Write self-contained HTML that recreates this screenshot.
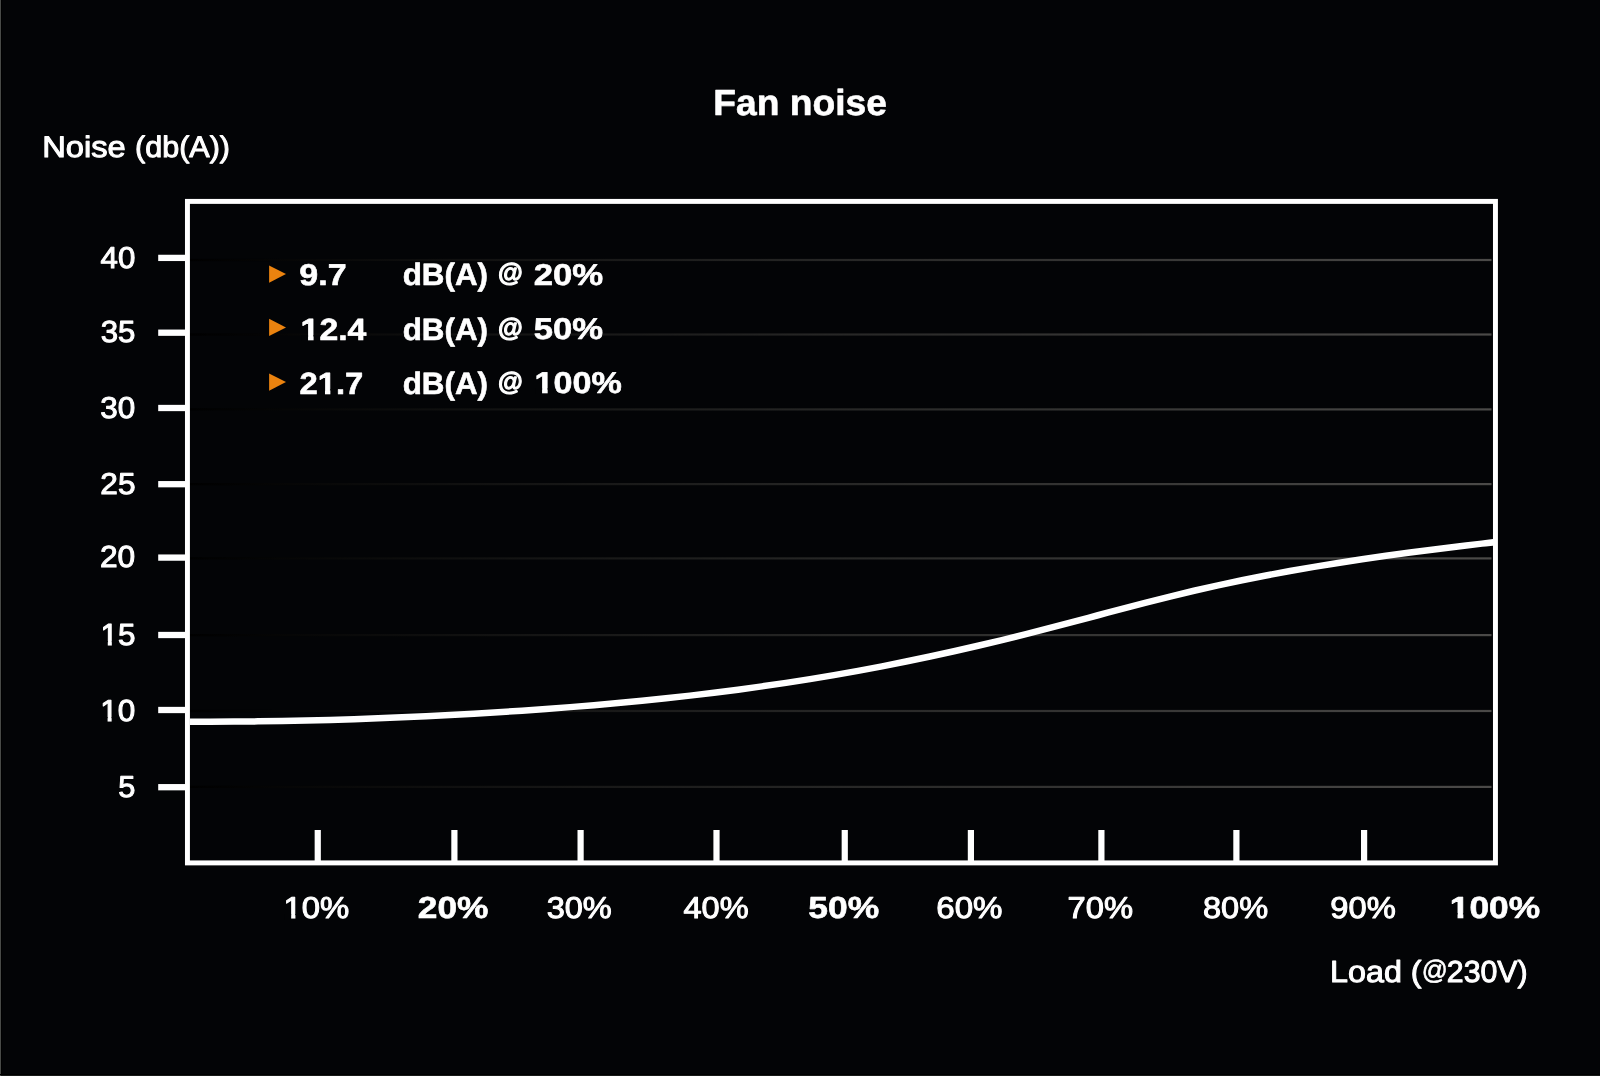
<!DOCTYPE html>
<html lang="en"><head><meta charset="utf-8"><title>Fan noise</title>
<style>
html,body{margin:0;padding:0;background:#030406;}
body{width:1600px;height:1076px;overflow:hidden;position:relative;}
svg{position:absolute;left:0;top:0;display:block;will-change:transform;}
text{font-family:"Liberation Sans",sans-serif;fill:#fff;stroke:#fff;stroke-linejoin:round;text-rendering:geometricPrecision;}
.b{font-weight:bold;}
</style></head><body>
<svg width="1600" height="1076" viewBox="0 0 1600 1076">
<defs><linearGradient id="gl" gradientUnits="userSpaceOnUse" x1="190" y1="0" x2="1491.5" y2="0"><stop offset="0" stop-color="#000000"/><stop offset="0.5" stop-color="#272726"/><stop offset="1" stop-color="#4b4a48"/></linearGradient></defs>
<rect x="0" y="0" width="1" height="1076" fill="#484a47"/><rect x="1" y="0" width="1" height="1076" fill="#000"/>
<rect x="0" y="1074" width="1600" height="1" fill="#000"/><rect x="1" y="1075" width="1599" height="1" fill="#171918"/>
<rect x="190" y="258.90" width="1301.5" height="2.2" fill="url(#gl)"/>
<rect x="190" y="333.40" width="1301.5" height="2.2" fill="url(#gl)"/>
<rect x="190" y="408.30" width="1301.5" height="2.2" fill="url(#gl)"/>
<rect x="190" y="483.00" width="1301.5" height="2.2" fill="url(#gl)"/>
<rect x="190" y="557.30" width="1301.5" height="2.2" fill="url(#gl)"/>
<rect x="190" y="634.00" width="1301.5" height="2.2" fill="url(#gl)"/>
<rect x="190" y="709.90" width="1301.5" height="2.2" fill="url(#gl)"/>
<rect x="190" y="785.80" width="1301.5" height="2.2" fill="url(#gl)"/>
<rect x="187.45" y="201.4" width="1308" height="661.5" fill="none" stroke="#fff" stroke-width="4.95"/>
<rect x="158.2" y="254.75" width="28" height="6.3" fill="#fff"/>
<rect x="158.2" y="329.55" width="28" height="6.3" fill="#fff"/>
<rect x="158.2" y="404.85" width="28" height="6.3" fill="#fff"/>
<rect x="158.2" y="481.05" width="28" height="6.3" fill="#fff"/>
<rect x="158.2" y="554.45" width="28" height="6.3" fill="#fff"/>
<rect x="158.2" y="631.85" width="28" height="6.3" fill="#fff"/>
<rect x="158.2" y="706.85" width="28" height="6.3" fill="#fff"/>
<rect x="158.2" y="784.05" width="28" height="6.3" fill="#fff"/>
<rect x="314.65" y="830" width="6.2" height="31" fill="#fff"/>
<rect x="451.30" y="830" width="6.2" height="31" fill="#fff"/>
<rect x="577.50" y="830" width="6.2" height="31" fill="#fff"/>
<rect x="713.40" y="830" width="6.2" height="31" fill="#fff"/>
<rect x="841.65" y="830" width="6.2" height="31" fill="#fff"/>
<rect x="967.80" y="830" width="6.2" height="31" fill="#fff"/>
<rect x="1098.30" y="830" width="6.2" height="31" fill="#fff"/>
<rect x="1233.30" y="830" width="6.2" height="31" fill="#fff"/>
<rect x="1361.00" y="830" width="6.2" height="31" fill="#fff"/>
<clipPath id="cp"><rect x="190" y="204" width="1303" height="656.5"/></clipPath>
<path clip-path="url(#cp)" d="M186.00 721.66 C190.00 721.67 202.00 721.71 210.00 721.70 C218.00 721.69 226.00 721.65 234.00 721.60 C242.00 721.54 250.00 721.47 258.00 721.37 C266.00 721.27 274.00 721.15 282.00 721.01 C290.00 720.86 298.00 720.70 306.00 720.52 C314.00 720.33 322.00 720.13 330.00 719.90 C338.00 719.67 346.00 719.43 354.00 719.16 C362.00 718.89 370.00 718.60 378.00 718.30 C386.00 717.99 394.00 717.66 402.00 717.31 C410.00 716.96 418.00 716.60 426.00 716.21 C434.00 715.82 442.00 715.41 450.00 714.99 C458.00 714.56 466.00 714.12 474.00 713.65 C482.00 713.19 490.00 712.71 498.00 712.21 C506.00 711.71 514.00 711.19 522.00 710.64 C530.00 710.10 538.00 709.54 546.00 708.96 C554.00 708.37 562.00 707.76 570.00 707.13 C578.00 706.50 586.00 705.84 594.00 705.16 C602.00 704.48 610.00 703.77 618.00 703.03 C626.00 702.30 634.00 701.53 642.00 700.74 C650.00 699.94 658.00 699.12 666.00 698.27 C674.00 697.41 682.00 696.53 690.00 695.61 C698.00 694.69 706.00 693.74 714.00 692.75 C722.00 691.76 730.00 690.74 738.00 689.68 C746.00 688.62 754.00 687.53 762.00 686.39 C770.00 685.26 778.00 684.09 786.00 682.88 C794.00 681.67 802.00 680.42 810.00 679.12 C818.00 677.83 826.00 676.49 834.00 675.11 C842.00 673.74 850.00 672.31 858.00 670.85 C866.00 669.38 874.00 667.87 882.00 666.32 C890.00 664.77 898.00 663.18 906.00 661.55 C914.00 659.91 922.00 658.24 930.00 656.52 C938.00 654.81 946.00 653.06 954.00 651.26 C962.00 649.47 970.00 647.64 978.00 645.77 C986.00 643.90 994.00 642.00 1002.00 640.05 C1010.00 638.11 1018.00 636.13 1026.00 634.12 C1034.00 632.10 1042.00 630.05 1050.00 627.97 C1058.00 625.89 1066.00 623.77 1074.00 621.66 C1082.00 619.54 1090.00 617.39 1098.00 615.26 C1106.00 613.14 1114.00 611.00 1122.00 608.89 C1130.00 606.78 1138.00 604.68 1146.00 602.62 C1154.00 600.56 1162.00 598.53 1170.00 596.55 C1178.00 594.58 1186.00 592.64 1194.00 590.77 C1202.00 588.91 1210.00 587.10 1218.00 585.35 C1226.00 583.60 1234.00 581.91 1242.00 580.27 C1250.00 578.63 1258.00 577.05 1266.00 575.51 C1274.00 573.98 1282.00 572.49 1290.00 571.05 C1298.00 569.62 1306.00 568.23 1314.00 566.88 C1322.00 565.53 1330.00 564.22 1338.00 562.95 C1346.00 561.69 1354.00 560.46 1362.00 559.27 C1370.00 558.08 1378.00 556.92 1386.00 555.80 C1394.00 554.67 1402.00 553.58 1410.00 552.52 C1418.00 551.45 1426.00 550.42 1434.00 549.41 C1442.00 548.40 1450.00 547.41 1458.00 546.45 C1466.00 545.48 1475.00 544.43 1482.00 543.62 C1489.00 542.80 1497.00 541.91 1500.00 541.56" fill="none" stroke="#fff" stroke-width="6.5"/>
<path d="M269.1 265.40 L286.0 274.10 L269.1 282.80 Z" fill="#eb830f"/>
<path d="M269.1 318.70 L286.0 327.40 L269.1 336.10 Z" fill="#eb830f"/>
<path d="M269.1 373.40 L286.0 382.10 L269.1 390.80 Z" fill="#eb830f"/>
<text class="b" x="713.37" y="115.00" font-size="36.28" stroke-width="0.60" textLength="173.64" lengthAdjust="spacingAndGlyphs">Fan noise</text>
<text x="42.18" y="157.00" font-size="29.66" stroke-width="1.00" textLength="83.59" lengthAdjust="spacingAndGlyphs">Noise</text>
<text x="135.04" y="157.00" font-size="29.66" stroke-width="1.00" textLength="94.97" lengthAdjust="spacingAndGlyphs">(db(A))</text>
<text x="100.63" y="268.00" font-size="30.13" stroke-width="1.00" textLength="34.73" lengthAdjust="spacingAndGlyphs">40</text>
<text x="100.67" y="342.00" font-size="30.41" stroke-width="1.00" textLength="34.70" lengthAdjust="spacingAndGlyphs">35</text>
<text x="100.25" y="418.00" font-size="30.13" stroke-width="1.00" textLength="34.96" lengthAdjust="spacingAndGlyphs">30</text>
<text x="100.29" y="494.00" font-size="30.13" stroke-width="1.00" textLength="35.20" lengthAdjust="spacingAndGlyphs">25</text>
<text x="99.95" y="567.00" font-size="30.41" stroke-width="1.00" textLength="35.28" lengthAdjust="spacingAndGlyphs">20</text>
<text x="100.52" y="645.00" font-size="30.48" stroke-width="1.00" textLength="34.92" lengthAdjust="spacingAndGlyphs">15</text>
<text x="100.31" y="721.00" font-size="30.34" stroke-width="1.00" textLength="35.02" lengthAdjust="spacingAndGlyphs">10</text>
<text x="118.39" y="797.00" font-size="30.07" stroke-width="1.00" textLength="17.12" lengthAdjust="spacingAndGlyphs">5</text>
<text class="b" x="299.39" y="285.00" font-size="30.00" stroke-width="0.60" textLength="47.21" lengthAdjust="spacingAndGlyphs">9.7</text>
<text class="b" x="402.66" y="285.00" font-size="30.85" stroke-width="0.60" textLength="85.32" lengthAdjust="spacingAndGlyphs">dB(A)</text>
<text class="b" x="498.02" y="281.00" font-size="25.60" stroke-width="1.10" textLength="24.69" lengthAdjust="spacingAndGlyphs">@</text>
<text class="b" x="533.72" y="285.00" font-size="30.00" stroke-width="0.60" textLength="69.51" lengthAdjust="spacingAndGlyphs">20%</text>
<text class="b" x="300.61" y="340.00" font-size="30.70" stroke-width="0.60" textLength="65.76" lengthAdjust="spacingAndGlyphs">12.4</text>
<text class="b" x="402.66" y="340.00" font-size="30.85" stroke-width="0.60" textLength="85.32" lengthAdjust="spacingAndGlyphs">dB(A)</text>
<text class="b" x="498.02" y="336.00" font-size="25.60" stroke-width="1.10" textLength="24.69" lengthAdjust="spacingAndGlyphs">@</text>
<text class="b" x="533.71" y="339.00" font-size="30.00" stroke-width="0.60" textLength="69.26" lengthAdjust="spacingAndGlyphs">50%</text>
<text class="b" x="299.58" y="394.00" font-size="30.70" stroke-width="0.60" textLength="63.75" lengthAdjust="spacingAndGlyphs">21.7</text>
<text class="b" x="402.66" y="394.00" font-size="30.85" stroke-width="0.60" textLength="85.32" lengthAdjust="spacingAndGlyphs">dB(A)</text>
<text class="b" x="498.02" y="390.00" font-size="25.60" stroke-width="1.10" textLength="24.69" lengthAdjust="spacingAndGlyphs">@</text>
<text class="b" x="534.59" y="393.00" font-size="30.00" stroke-width="0.60" textLength="87.13" lengthAdjust="spacingAndGlyphs">100%</text>
<text x="283.58" y="918.00" font-size="30.13" stroke-width="1.00" textLength="65.76" lengthAdjust="spacingAndGlyphs">10%</text>
<text class="b" x="417.86" y="918.00" font-size="30.49" stroke-width="0.60" textLength="70.62" lengthAdjust="spacingAndGlyphs">20%</text>
<text x="546.66" y="918.00" font-size="30.13" stroke-width="1.00" textLength="65.15" lengthAdjust="spacingAndGlyphs">30%</text>
<text x="683.49" y="918.00" font-size="30.13" stroke-width="1.00" textLength="65.11" lengthAdjust="spacingAndGlyphs">40%</text>
<text class="b" x="808.38" y="918.00" font-size="30.49" stroke-width="0.60" textLength="70.87" lengthAdjust="spacingAndGlyphs">50%</text>
<text x="936.30" y="918.00" font-size="30.13" stroke-width="1.00" textLength="66.20" lengthAdjust="spacingAndGlyphs">60%</text>
<text x="1067.64" y="918.00" font-size="30.13" stroke-width="1.00" textLength="65.43" lengthAdjust="spacingAndGlyphs">70%</text>
<text x="1202.96" y="918.00" font-size="30.13" stroke-width="1.00" textLength="65.15" lengthAdjust="spacingAndGlyphs">80%</text>
<text x="1330.31" y="918.00" font-size="30.13" stroke-width="1.00" textLength="65.43" lengthAdjust="spacingAndGlyphs">90%</text>
<text class="b" x="1449.78" y="918.00" font-size="30.49" stroke-width="0.60" textLength="90.29" lengthAdjust="spacingAndGlyphs">100%</text>
<text x="1330.11" y="982.00" font-size="30.42" stroke-width="1.00" textLength="91.49" lengthAdjust="spacingAndGlyphs">Load (</text>
<text x="1421.80" y="979.00" font-size="26.94" stroke-width="0.60" textLength="26.08" lengthAdjust="spacingAndGlyphs">@</text>
<text x="1446.85" y="982.00" font-size="30.42" stroke-width="1.00" textLength="80.81" lengthAdjust="spacingAndGlyphs">230V)</text>
<rect x="101.69" y="641.00" width="6.08" height="6.00" fill="#030406"/><rect x="111.83" y="641.00" width="5.82" height="6.00" fill="#030406"/>
<rect x="101.48" y="717.00" width="6.09" height="6.00" fill="#030406"/><rect x="111.65" y="717.00" width="5.84" height="6.00" fill="#030406"/>
<rect x="284.83" y="914.00" width="6.33" height="6.00" fill="#030406"/><rect x="295.42" y="914.00" width="6.07" height="6.00" fill="#030406"/>
<rect x="1450.96" y="913.00" width="6.58" height="6.00" fill="#030406"/><rect x="1463.35" y="913.00" width="6.12" height="6.00" fill="#030406"/>
<rect x="301.71" y="335.00" width="6.33" height="6.00" fill="#030406"/><rect x="313.60" y="335.00" width="5.89" height="6.00" fill="#030406"/>
<rect x="318.83" y="389.00" width="6.15" height="6.00" fill="#030406"/><rect x="330.39" y="389.00" width="5.72" height="6.00" fill="#030406"/>
<rect x="535.70" y="388.00" width="6.37" height="6.00" fill="#030406"/><rect x="547.69" y="388.00" width="5.93" height="6.00" fill="#030406"/>
</svg>
</body></html>
